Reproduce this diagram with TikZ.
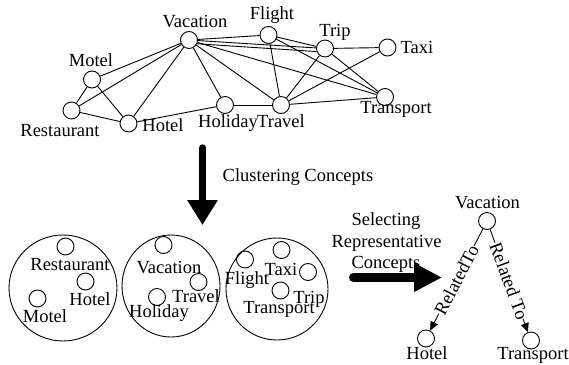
\documentclass[tikz,border=0pt]{standalone}
\usepackage{fontspec}
\setmainfont{Liberation Serif}
\usetikzlibrary{arrows.meta}
\begin{document}
\begin{tikzpicture}[x=1pt,y=-1pt,
  concept/.style={circle,draw,line width=0.9pt,minimum size=17pt,inner sep=0pt},
  lbl/.style={anchor=base,inner sep=0pt,font=\fontsize{18.5}{20}\selectfont},
  link/.style={line width=0.9pt},
  cluster/.style={draw,line width=0.9pt},
  bigarrow/.style={line width=#1,line cap=round},
  rel/.style={line width=0.9pt,-{Triangle[length=9pt,width=8pt]}},
  rellbl/.style={sloped,fill=white,inner sep=0.3pt,font=\fontsize{18.5}{20}\selectfont}
]
\useasboundingbox (0,0) rectangle (569,364);

% ---- concept graph ----
\node[concept] (gVac)   at (189,40)   {};
\node[concept] (gFli)   at (268.5,35) {};
\node[concept] (gTrip)  at (325,48.5) {};
\node[concept] (gTaxi)  at (387.5,47.5) {};
\node[concept] (gTrans) at (385,97)   {};
\node[concept] (gTrav)  at (281,105)  {};
\node[concept] (gHol)   at (225,105)  {};
\node[concept] (gHot)   at (128.5,123.5) {};
\node[concept] (gRest)  at (71.5,110.5) {};
\node[concept] (gMot)   at (92,79.5)  {};

\node[lbl] (lVac)   at (195,27)  {Vacation};
\node[lbl] (lFli)   at (272,19)  {Flight};
\node[lbl] (lTrip)  at (335,36)  {Trip};
\node[lbl] (lTaxi)  at (417,53)  {Taxi};
\node[lbl] (lTrans) at (396,113) {Transport};
\node[lbl] (lTrav)  at (281,127) {Travel};
\node[lbl] (lHol)   at (228,127) {Holiday};
\node[lbl] (lHot)   at (163,131) {Hotel};
\node[lbl] (lRest)  at (60,136)  {Restaurant};
\node[lbl] (lMot)   at (91,66)   {Motel};

\draw[link] (gVac) -- (gMot);
\draw[link] (gVac) -- (gRest);
\draw[link] (gVac) -- (gHot);
\draw[link] (gVac) -- (gHol);
\draw[link] (gVac) -- (gTrav);
\draw[link] (gVac) -- (gFli);
\draw[link] (gVac) -- (gTrip);
\draw[link] (gVac.335) -- (gTrip.200);
\draw[link] (gVac) -- (gTrans);
\draw[link] (gMot) -- (gRest);
\draw[link] (gMot) -- (gHot);
\draw[link] (gRest) -- (gHot);
\draw[link] (gHot) -- (gHol);
\draw[link] (gHol) -- (gTrav);
\draw[link] (gTrav) -- (gFli);
\draw[link] (gTrav) -- (gTrip);
\draw[link] (gTrav) -- (gTaxi);
\draw[link] (gTrav) -- (gTrans);
\draw[link] (gFli) -- (gTrip);
\draw[link] (gFli) -- (gTrans);
\draw[link] (gTrip) -- (gTaxi);
\draw[link] (gTrip) -- (gTrans);

% ---- clustering step ----
\coordinate (dStart) at (202.5,148);
\coordinate (dEnd)   at (202.5,225);
\draw[bigarrow=7.5pt,-{Triangle[length=25pt,width=29pt]}] (dStart) -- (dEnd);
\node[lbl] (lClust) at (298,181) {Clustering Concepts};

% ---- clusters ----
\draw[cluster] (63,288) ellipse [x radius=54pt, y radius=53pt];
\draw[cluster] (171,286) ellipse [x radius=49pt, y radius=51pt];
\draw[cluster] (277,289) ellipse [x radius=51pt, y radius=51pt];

\node[concept] (aRest) at (65.5,246.5) {};
\node[concept] (aHot)  at (85.5,281.5) {};
\node[concept] (aMot)  at (37.5,298.5) {};
\node[lbl] (laRest) at (70,270)  {Restaurant};
\node[lbl] (laHot)  at (90,305)  {Hotel};
\node[lbl] (laMot)  at (45,322)  {Motel};

\node[concept] (bVac)  at (163.5,245) {};
\node[concept] (bTrav) at (198.5,282) {};
\node[concept] (bHol)  at (157,297)   {};
\node[lbl] (lbVac)  at (169,273) {Vacation};
\node[lbl] (lbTrav) at (196,302) {Travel};
\node[lbl] (lbHol)  at (159,317) {Holiday};

\node[concept] (cFli)   at (245,259.5)   {};
\node[concept] (cTaxi)  at (281.5,250)   {};
\node[concept] (cTrip)  at (308,272)     {};
\node[concept] (cTrans) at (280.5,290.5) {};
\node[lbl] (lcFli)   at (247,284) {Flight};
\node[lbl] (lcTaxi)  at (281,275) {Taxi};
\node[lbl] (lcTrip)  at (309,303) {Trip};
\node[lbl] (lcTrans) at (279,313) {Transport};

% ---- selection step ----
\coordinate (sStart) at (353.5,277.5);
\coordinate (sEnd)   at (442,277.5);
\draw[bigarrow=9pt,-{Triangle[length=28pt,width=27pt]}] (sStart) -- (sEnd);
\node[lbl] (lSel1) at (386,225)   {Selecting};
\node[lbl] (lSel2) at (386.5,247) {Representative};
\node[lbl] (lSel3) at (386,268)   {Concepts};

% ---- representative concepts ----
\node[concept] (tVac)   at (487,221)   {};
\node[concept] (tHot)   at (426,338.5) {};
\node[concept] (tTrans) at (531,340.5) {};
\node[lbl] (ltVac)   at (487.5,208) {Vacation};
\node[lbl] (ltHot)   at (427,359)   {Hotel};
\node[lbl] (ltTrans) at (533,359.5) {Transport};

\draw[rel] (tVac) -- node[rellbl] {RelatedTo} (tHot);
\draw[rel] (tVac) -- node[rellbl] {Related To} (tTrans);
\end{tikzpicture}
\end{document}
